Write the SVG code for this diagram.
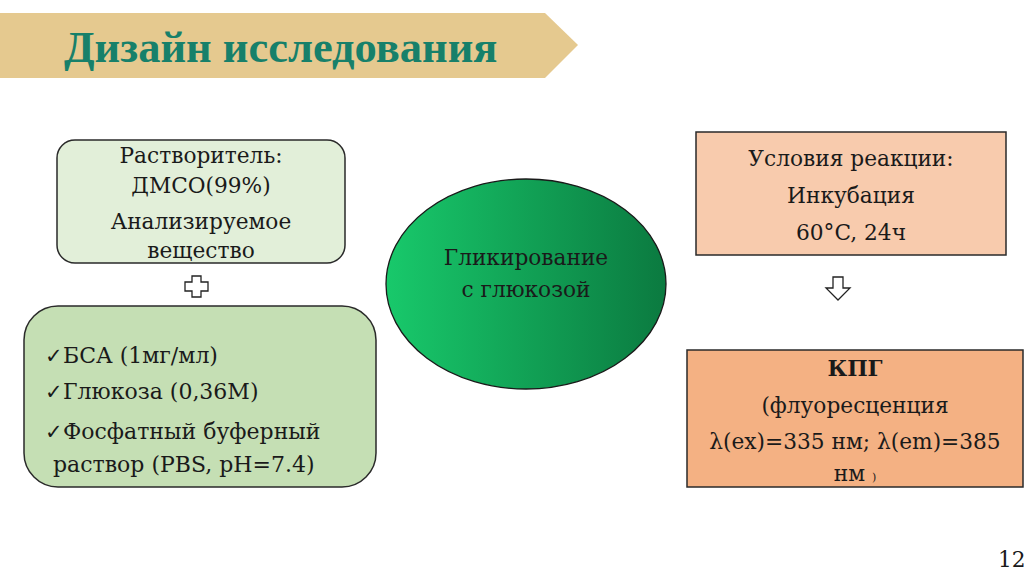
<svg xmlns="http://www.w3.org/2000/svg" width="1024" height="576" viewBox="0 0 1024 576">
<defs>
<linearGradient id="gr" x1="0" y1="0" x2="1" y2="0">
<stop offset="0" stop-color="#18C96B"/>
<stop offset="1" stop-color="#0B7A40"/>
</linearGradient>
</defs>
<style>
.t{font-family:"DejaVu Serif","Liberation Serif",serif;fill:#1a1a1a;font-size:21.7px}
.c{text-anchor:middle}
.l{font-size:22px}
.box{stroke:#2a2a2a;stroke-width:1.5}
</style>
<rect width="1024" height="576" fill="#ffffff"/>
<g id="title">
<polygon points="0,13 545,13 578,45 545,78 0,78" fill="#E5C98F"/>
<text x="64" y="62" font-family="Liberation Serif, serif" font-weight="bold" font-size="44.5" fill="#17806A">Дизайн исследования</text>
</g>
<g id="solvent">
<rect class="box" x="57" y="140" width="288" height="123" rx="18" fill="#E2EFD9"/>
<text class="t c" x="201" y="163">Растворитель:</text>
<text class="t c" x="201" y="193">ДМСО(99%)</text>
<text class="t c" x="201" y="229">Анализируемое</text>
<text class="t c" x="201" y="258">вещество</text>
</g>
<g id="plus">
<path d="M192,276 h9 v6 h7 v9 h-7 v6 h-9 v-6 h-7 v-9 h7 z" fill="#fff" stroke="#222" stroke-width="1.3"/>
</g>
<g id="reagents">
<rect class="box" x="24" y="306" width="352" height="181" rx="34" fill="#C5DFB4"/>
<text class="t l" x="45" y="363"><tspan font-size="21">✓</tspan>БСА (1мг/мл)</text>
<text class="t l" x="45" y="399"><tspan font-size="21">✓</tspan>Глюкоза (0,36М)</text>
<text class="t l" x="45" y="439"><tspan font-size="21">✓</tspan>Фосфатный буферный</text>
<text class="t l" x="53" y="472">раствор (PBS, pH=7.4)</text>
</g>
<g id="glycation">
<ellipse cx="526" cy="284" rx="140" ry="105" fill="url(#gr)" stroke="#1a1a1a" stroke-width="1.3"/>
<text class="t c" x="526" y="265">Гликирование</text>
<text class="t c" x="526" y="297">с глюкозой</text>
</g>
<g id="conditions">
<rect class="box" x="696" y="132" width="310" height="123" fill="#F8CBAD"/>
<text class="t c" x="851" y="166">Условия реакции:</text>
<text class="t c" x="851" y="203">Инкубация</text>
<text class="t c" x="851" y="240">60°C, 24ч</text>
</g>
<g id="connectors">
<path d="M833,277 h10 v11 h7 l-12,12 l-12,-12 h7 z" fill="#fff" stroke="#222" stroke-width="1.3"/>
</g>
<g id="kpg">
<rect class="box" x="687" y="350" width="336" height="137" fill="#F4B183"/>
<text class="t c" x="855" y="376" font-weight="bold">КПГ</text>
<text class="t c" x="855" y="413" font-size="22.4">(флуоресценция</text>
<text class="t c" x="855" y="449" font-size="22.4">λ(ex)=335 нм; λ(em)=385</text>
<text class="t c" x="855" y="481" font-size="22.4">нм <tspan font-size="11">)</tspan></text>
</g>
<text class="t" x="998" y="567" font-size="16">12</text>
</svg>
